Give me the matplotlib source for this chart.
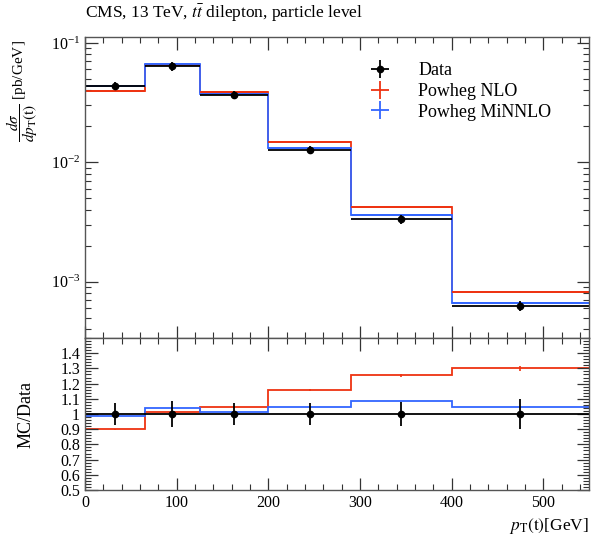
import numpy as np
import matplotlib
matplotlib.use("Agg")
import matplotlib.pyplot as plt
from matplotlib.ticker import MultipleLocator, LogLocator, NullFormatter

# bin edges in pT(t) [GeV]
edges = [0, 65, 125, 200, 290, 400, 550]

# measured cross section [pb/GeV] and relative uncertainty
data = [0.0439, 0.0640, 0.0368, 0.0127, 0.00333, 0.000630]
data_relerr = [0.07, 0.085, 0.07, 0.07, 0.08, 0.10]

# MC / Data ratios
nlo_ratio = [0.90, 1.01, 1.045, 1.16, 1.255, 1.30]
nlo_relerr = [0.004, 0.004, 0.005, 0.006, 0.008, 0.012]
minnlo_ratio = [0.99, 1.04, 1.01, 1.045, 1.085, 1.045]

RED = "#EE3311"
BLUE = "#3366FF"

plt.rcParams["font.family"] = ["Liberation Serif", "DejaVu Serif"]
plt.rcParams["mathtext.fontset"] = "stix"
plt.rcParams["font.size"] = 11.5


def style_axis(ax):
    ax.tick_params(which="both", direction="in", top=True, right=True, colors="#333333",
                   labelcolor="black")
    ax.tick_params(which="major", length=9, width=0.9)
    ax.tick_params(which="minor", length=4.5, width=0.8)
    for s in ax.spines.values():
        s.set_color("#555555")
        s.set_linewidth(1.0)


def main():
    e = np.array(edges, dtype=float)
    centers = 0.5 * (e[:-1] + e[1:])
    half = 0.5 * np.diff(e)
    d = np.array(data)
    derr = d * np.array(data_relerr)
    nlo = d * np.array(nlo_ratio)
    minnlo = d * np.array(minnlo_ratio)

    fig = plt.figure(figsize=(5.93, 5.41), dpi=100)
    ax = fig.add_axes([85 / 593, 1 - 338 / 541, 504 / 593, 301 / 541])
    rx = fig.add_axes([85 / 593, 1 - 490 / 541, 504 / 593, 152 / 541], sharex=ax)

    # upper panel
    ax.stairs(nlo, e, color=RED, lw=1.3, baseline=None)
    ax.stairs(minnlo, e, color=BLUE, lw=1.3, baseline=None)
    h_nlo = ax.errorbar(centers, nlo, xerr=half, yerr=nlo * np.array(nlo_relerr),
                        fmt="none", ecolor=RED, elinewidth=1.3, label="Powheg NLO")
    h_min = ax.errorbar(centers, minnlo, xerr=half, yerr=minnlo * 0.004,
                        fmt="none", ecolor=BLUE, elinewidth=1.3, label="Powheg MiNNLO")
    h_dat = ax.errorbar(centers, d, xerr=half, yerr=derr, fmt="o", color="black",
                        ms=4.5, elinewidth=1.3, label="Data")
    ax.set_yscale("log")
    ax.set_ylim(3.37e-4, 0.112)
    ax.set_xlim(0, 550)
    ax.yaxis.set_major_locator(LogLocator(base=10, numticks=10))
    ax.yaxis.set_minor_locator(LogLocator(base=10, subs=np.arange(2, 10), numticks=10))
    ax.yaxis.set_minor_formatter(NullFormatter())
    ax.xaxis.set_major_locator(MultipleLocator(100))
    ax.xaxis.set_minor_locator(MultipleLocator(20))
    style_axis(ax)
    plt.setp(ax.get_xticklabels(), visible=False)
    ax.set_ylabel(r"$\dfrac{d\sigma}{dp_{\mathrm{T}}(\mathrm{t})}$ [pb/GeV]", fontsize=11)
    ax.yaxis.set_label_coords(-0.09, 0.82)
    ax.legend(handles=[h_dat, h_nlo, h_min], loc="upper left", bbox_to_anchor=(0.50, 0.97),
              frameon=False, fontsize=13, handlelength=3.0, handletextpad=0.6,
              labelspacing=0.2)
    fig.text(85 / 593, 1 - 13 / 541, r"CMS, 13 TeV, $t\bar{t}$ dilepton, particle level",
             fontsize=12.5, va="center", ha="left")

    # ratio panel
    rx.axhline(1.0, color="black", lw=1.3)
    rx.stairs(nlo_ratio, e, color=RED, lw=1.3, baseline=None)
    rx.stairs(minnlo_ratio, e, color=BLUE, lw=1.3, baseline=None)
    rx.errorbar(centers, nlo_ratio, yerr=np.array(nlo_ratio) * np.array(nlo_relerr),
                fmt="none", ecolor=RED, elinewidth=1.2)
    rx.errorbar(centers, np.ones(len(d)), yerr=data_relerr, fmt="o", color="black",
                ms=4.5, elinewidth=1.3)
    rx.set_ylim(0.5, 1.5)
    rx.yaxis.set_minor_locator(MultipleLocator(0.02))
    yt = np.round(np.arange(0.5, 1.45, 0.1), 2)
    rx.set_yticks(yt)
    rx.set_yticklabels([f"{v:g}" for v in yt])
    style_axis(rx)
    rx.set_ylabel("MC/Data", fontsize=13)
    rx.yaxis.set_label_coords(-0.10, 0.5)
    rx.set_xlabel(r"$p_{\mathrm{T}}(\mathrm{t})$[GeV]", fontsize=12.5, loc="right")

    fig.savefig("out.png", dpi=100)
    plt.close(fig)


if __name__ == "__main__":
    main()
